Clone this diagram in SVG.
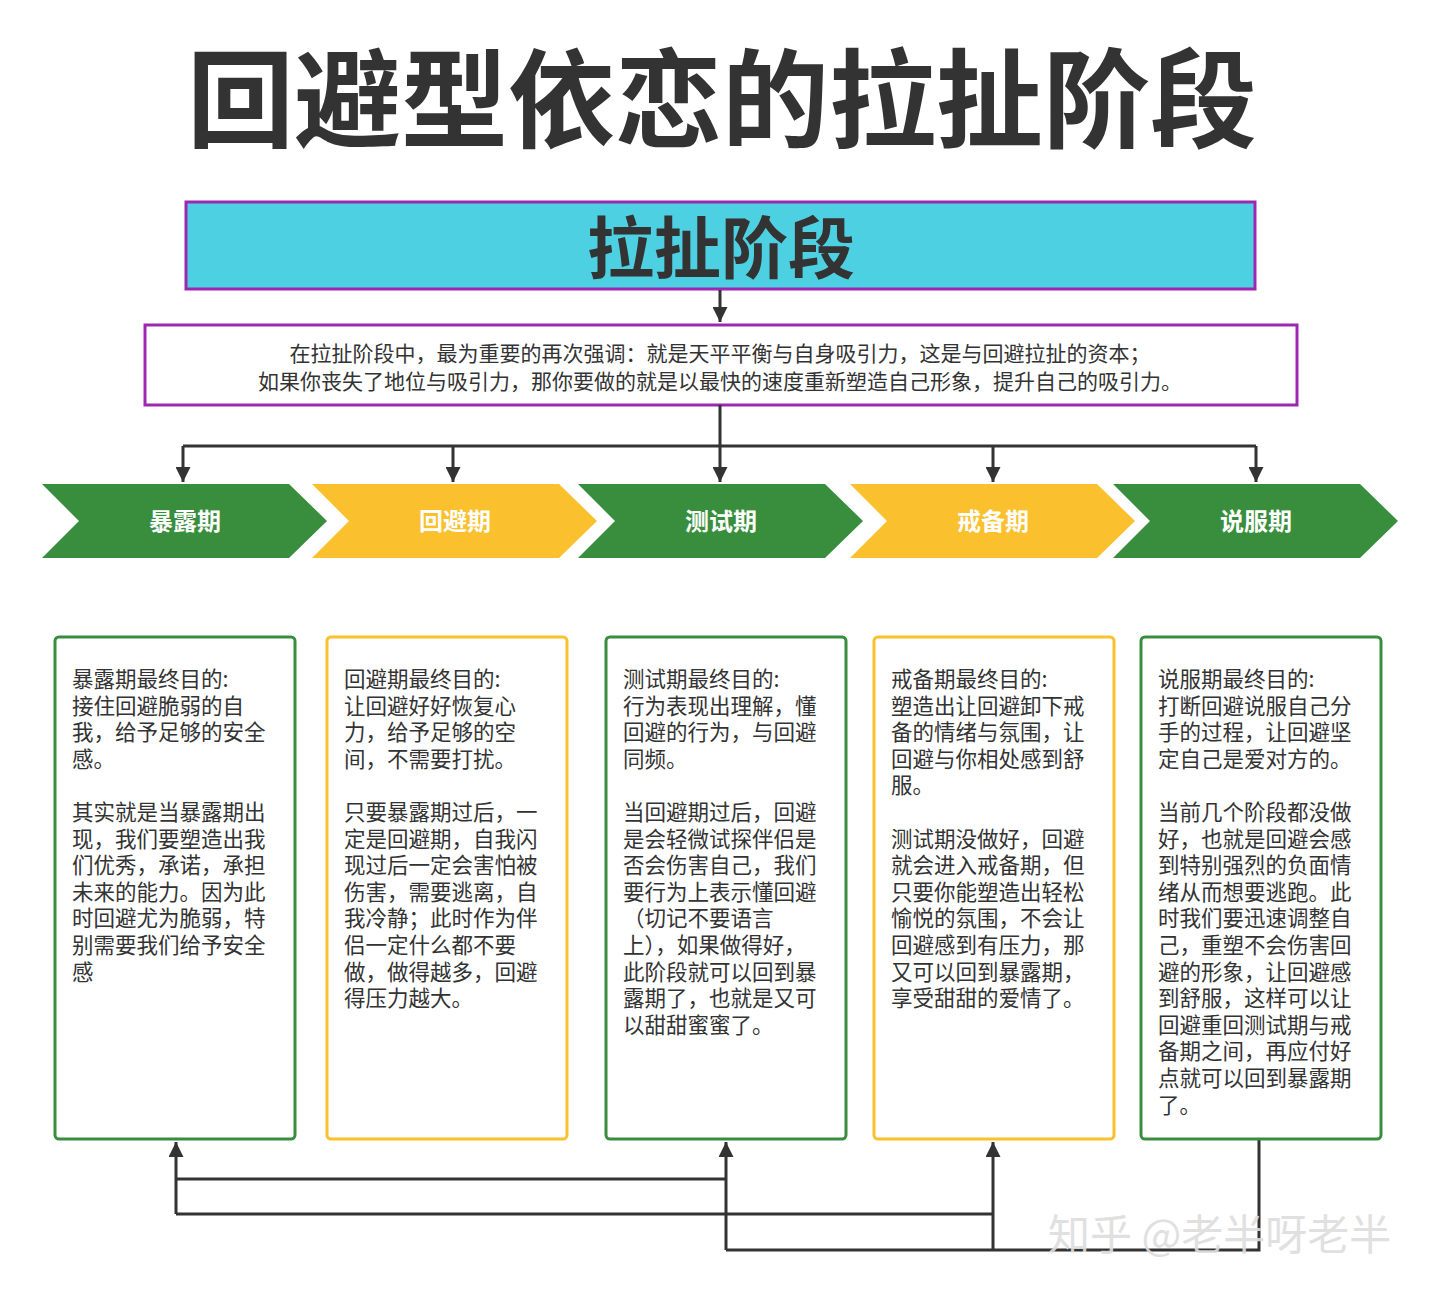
<svg xmlns="http://www.w3.org/2000/svg" width="1440" height="1292" viewBox="0 0 1440 1292">
<defs>
<style>
text{font-family:"Noto Sans CJK SC","Liberation Sans",sans-serif}
.t{font-size:21.5px;fill:#333}
.d{font-size:21px;fill:#333}
.c{font-size:24px;font-weight:bold;fill:#fff;text-anchor:middle}
.g{fill:#388e3c}.y{fill:#fbc02d}
.bg{fill:#fff;stroke:#388e3c;stroke-width:3}
.by{fill:#fff;stroke:#fbc02d;stroke-width:3}
.ln{fill:none;stroke:#333;stroke-width:3}
</style>
<marker id="a" viewBox="0 0 10 10" refX="10" refY="5" markerWidth="5" markerHeight="5" orient="auto"><path d="M0,0L10,5L0,10z" fill="#333"/></marker>
</defs>
<rect width="1440" height="1292" fill="#fff"/>
<text x="722" y="139" text-anchor="middle" font-size="107" font-weight="bold" fill="#333">回避型依恋的拉扯阶段</text>
<g id="header"><rect x="186" y="202" width="1069" height="87" fill="#4dd0e1" stroke="#9c27b0" stroke-width="3"/><text x="721" y="273" text-anchor="middle" font-size="67" font-weight="bold" fill="#333">拉扯阶段</text></g>
<g id="desc"><rect x="145" y="325" width="1152" height="80" fill="#fff" stroke="#9c27b0" stroke-width="3"/>
<text x="720" y="361" text-anchor="middle" class="d">在拉扯阶段中，最为重要的再次强调：就是天平平衡与自身吸引力，这是与回避拉扯的资本；</text>
<text x="720" y="389" text-anchor="middle" class="d">如果你丧失了地位与吸引力，那你要做的就是以最快的速度重新塑造自己形象，提升自己的吸引力。</text></g>
<g id="connectors">
<path class="ln" d="M720,290V322" marker-end="url(#a)"/>
<path class="ln" d="M720,405V446M183,446H1256"/>
<path class="ln" d="M183,446V482" marker-end="url(#a)"/>
<path class="ln" d="M453,446V482" marker-end="url(#a)"/>
<path class="ln" d="M720,446V482" marker-end="url(#a)"/>
<path class="ln" d="M993,446V482" marker-end="url(#a)"/>
<path class="ln" d="M1256,446V482" marker-end="url(#a)"/>
<path class="ln" d="M176,1179H726M176,1214H993M726,1250H1259V1139"/>
<path class="ln" d="M176,1214V1142" marker-end="url(#a)"/>
<path class="ln" d="M726,1250V1142" marker-end="url(#a)"/>
<path class="ln" d="M993,1250V1142" marker-end="url(#a)"/>
</g>
<g id="c1"><path class="g" d="M42,484H289L327,521L289,558H42L79,521z"/><text class="c" x="185" y="530">暴露期</text></g>
<g id="c2"><path class="y" d="M312,484H559L597,521L559,558H312L349,521z"/><text class="c" x="455" y="530">回避期</text></g>
<g id="c3"><path class="g" d="M578,484H825L863,521L825,558H578L615,521z"/><text class="c" x="721" y="530">测试期</text></g>
<g id="c4"><path class="y" d="M850,484H1097L1135,521L1097,558H850L887,521z"/><text class="c" x="993" y="530">戒备期</text></g>
<g id="c5"><path class="g" d="M1113,484H1360L1398,521L1360,558H1113L1150,521z"/><text class="c" x="1256" y="530">说服期</text></g>
<g id="b1"><rect class="bg" x="55" y="637" width="240" height="502" rx="4"/>
<text class="t" x="72" y="687"><tspan x="72">暴露期最终目的:</tspan><tspan x="72" dy="26.6">接住回避脆弱的自</tspan><tspan x="72" dy="26.6">我，给予足够的安全</tspan><tspan x="72" dy="26.6">感。</tspan><tspan x="72" dy="53.2">其实就是当暴露期出</tspan><tspan x="72" dy="26.6">现，我们要塑造出我</tspan><tspan x="72" dy="26.6">们优秀，承诺，承担</tspan><tspan x="72" dy="26.6">未来的能力。因为此</tspan><tspan x="72" dy="26.6">时回避尤为脆弱，特</tspan><tspan x="72" dy="26.6">别需要我们给予安全</tspan><tspan x="72" dy="26.6">感</tspan></text></g>
<g id="b2"><rect class="by" x="327" y="637" width="240" height="502" rx="4"/>
<text class="t" x="344" y="687"><tspan x="344">回避期最终目的:</tspan><tspan x="344" dy="26.6">让回避好好恢复心</tspan><tspan x="344" dy="26.6">力，给予足够的空</tspan><tspan x="344" dy="26.6">间，不需要打扰。</tspan><tspan x="344" dy="53.2">只要暴露期过后，一</tspan><tspan x="344" dy="26.6">定是回避期，自我闪</tspan><tspan x="344" dy="26.6">现过后一定会害怕被</tspan><tspan x="344" dy="26.6">伤害，需要逃离，自</tspan><tspan x="344" dy="26.6">我冷静；此时作为伴</tspan><tspan x="344" dy="26.6">侣一定什么都不要</tspan><tspan x="344" dy="26.6">做，做得越多，回避</tspan><tspan x="344" dy="26.6">得压力越大。</tspan></text></g>
<g id="b3"><rect class="bg" x="606" y="637" width="240" height="502" rx="4"/>
<text class="t" x="623" y="687"><tspan x="623">测试期最终目的:</tspan><tspan x="623" dy="26.6">行为表现出理解，懂</tspan><tspan x="623" dy="26.6">回避的行为，与回避</tspan><tspan x="623" dy="26.6">同频。</tspan><tspan x="623" dy="53.2">当回避期过后，回避</tspan><tspan x="623" dy="26.6">是会轻微试探伴侣是</tspan><tspan x="623" dy="26.6">否会伤害自己，我们</tspan><tspan x="623" dy="26.6">要行为上表示懂回避</tspan><tspan x="623" dy="26.6">（切记不要语言</tspan><tspan x="623" dy="26.6">上），如果做得好，</tspan><tspan x="623" dy="26.6">此阶段就可以回到暴</tspan><tspan x="623" dy="26.6">露期了，也就是又可</tspan><tspan x="623" dy="26.6">以甜甜蜜蜜了。</tspan></text></g>
<g id="b4"><rect class="by" x="874" y="637" width="240" height="502" rx="4"/>
<text class="t" x="891" y="687"><tspan x="891">戒备期最终目的:</tspan><tspan x="891" dy="26.6">塑造出让回避卸下戒</tspan><tspan x="891" dy="26.6">备的情绪与氛围，让</tspan><tspan x="891" dy="26.6">回避与你相处感到舒</tspan><tspan x="891" dy="26.6">服。</tspan><tspan x="891" dy="53.2">测试期没做好，回避</tspan><tspan x="891" dy="26.6">就会进入戒备期，但</tspan><tspan x="891" dy="26.6">只要你能塑造出轻松</tspan><tspan x="891" dy="26.6">愉悦的氛围，不会让</tspan><tspan x="891" dy="26.6">回避感到有压力，那</tspan><tspan x="891" dy="26.6">又可以回到暴露期，</tspan><tspan x="891" dy="26.6">享受甜甜的爱情了。</tspan></text></g>
<g id="b5"><rect class="bg" x="1141" y="637" width="240" height="502" rx="4"/>
<text class="t" x="1158" y="687"><tspan x="1158">说服期最终目的:</tspan><tspan x="1158" dy="26.6">打断回避说服自己分</tspan><tspan x="1158" dy="26.6">手的过程，让回避坚</tspan><tspan x="1158" dy="26.6">定自己是爱对方的。</tspan><tspan x="1158" dy="53.2">当前几个阶段都没做</tspan><tspan x="1158" dy="26.6">好，也就是回避会感</tspan><tspan x="1158" dy="26.6">到特别强烈的负面情</tspan><tspan x="1158" dy="26.6">绪从而想要逃跑。此</tspan><tspan x="1158" dy="26.6">时我们要迅速调整自</tspan><tspan x="1158" dy="26.6">己，重塑不会伤害回</tspan><tspan x="1158" dy="26.6">避的形象，让回避感</tspan><tspan x="1158" dy="26.6">到舒服，这样可以让</tspan><tspan x="1158" dy="26.6">回避重回测试期与戒</tspan><tspan x="1158" dy="26.6">备期之间，再应付好</tspan><tspan x="1158" dy="26.6">点就可以回到暴露期</tspan><tspan x="1158" dy="26.6">了。</tspan></text></g>
<text x="1048" y="1250" font-size="42" fill="#ddd" opacity="0.9">知乎 @老半呀老半</text>
</svg>
